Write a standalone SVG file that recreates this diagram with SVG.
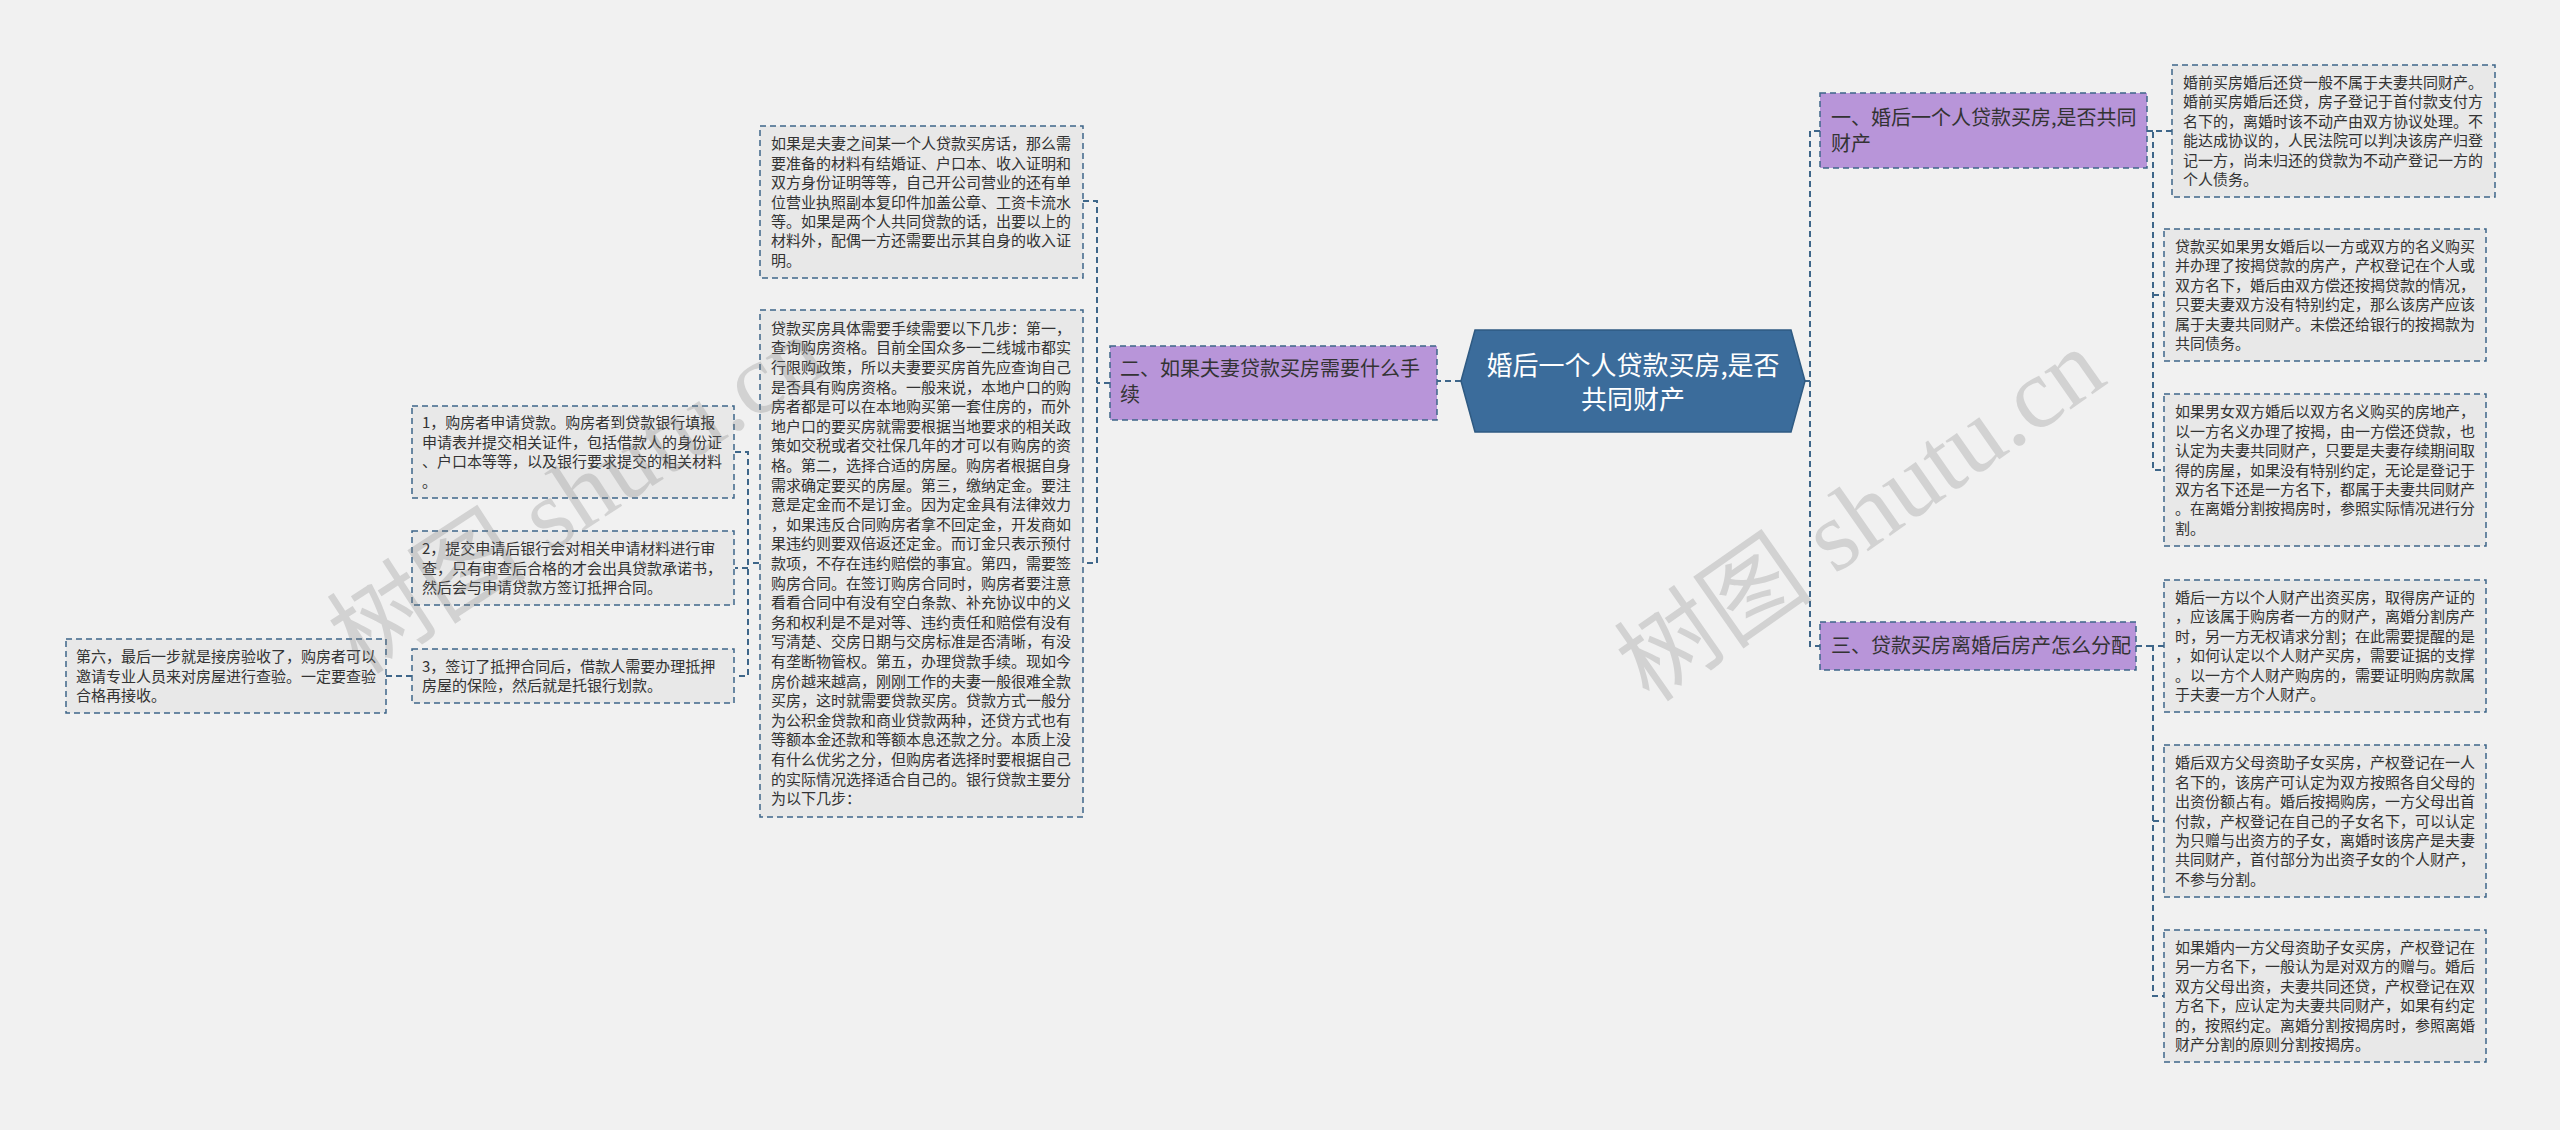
<svg xmlns="http://www.w3.org/2000/svg" width="2560" height="1130" viewBox="0 0 2560 1130">
<style>
.bg{fill:#f1f1f1}
.box{fill:#e8e8e8;stroke:#3e6689;stroke-width:1.5;stroke-dasharray:6 4}
.pbox{fill:#b895d9;stroke:#3e6689;stroke-width:1.5;stroke-dasharray:6 4}
.t{font-family:"Noto Sans CJK SC","Noto Sans",sans-serif;font-size:15px;fill:#333}
.pt{font-family:"Noto Sans CJK SC","Noto Sans",sans-serif;font-size:20px;fill:#333}
.ct{font-family:"Noto Sans CJK SC","Noto Sans",sans-serif;font-size:26px;fill:#fff}
.conn{fill:none;stroke:#3e6689;stroke-width:2;stroke-dasharray:6 4}
.wm{font-family:"Liberation Serif","Noto Sans CJK SC",serif;font-size:100px;fill:#777;opacity:0.25}
</style>
<rect class="bg" x="0" y="0" width="2560" height="1130"/>
<g id="connectors">
<path class="conn" d="M1461 381 H1437"/>
<path class="conn" d="M1110 383 H1097 M1083 201 H1097 V563 H1083"/>
<path class="conn" d="M759 563 H748 M735 452 H748 V676 H735 M748 568 H735"/>
<path class="conn" d="M412 676 H386"/>
<path class="conn" d="M1805 381 H1810 M1820 131 H1810 V646 H1820"/>
<path class="conn" d="M2147 131 H2153 M2172 131 H2153 V470 H2164 M2153 295 H2164"/>
<path class="conn" d="M2136 646 H2153 M2164 646 H2153 V996 H2164 M2153 821 H2164"/>
</g>
<g id="center">
<polygon points="1461,381 1475,330 1791,330 1805,381 1791,432 1475,432" fill="#3b6c9b" stroke="#2f5a82" stroke-width="1.5"/>
<text class="ct" text-anchor="middle"><tspan x="1633" y="375">婚后一个人贷款买房,是否</tspan><tspan x="1633" y="409">共同财产</tspan></text>
</g>
<g id="branch1">
<rect class="pbox" x="1820" y="93" width="327" height="75"/>
<text class="pt"><tspan x="1831" y="125">一、婚后一个人贷款买房,是否共同</tspan><tspan x="1831" y="151">财产</tspan></text>
</g>
<g id="branch2">
<rect class="pbox" x="1110" y="346" width="327" height="74"/>
<text class="pt"><tspan x="1120" y="376">二、如果夫妻贷款买房需要什么手</tspan><tspan x="1120" y="402">续</tspan></text>
</g>
<g id="branch3">
<rect class="pbox" x="1820" y="622" width="316" height="48"/>
<text class="pt"><tspan x="1831" y="653">三、贷款买房离婚后房产怎么分配</tspan></text>
</g>
<g id="t1">
<rect class="box" x="2172" y="65" width="323" height="132"/>
<text class="t"><tspan x="2183" y="88">婚前买房婚后还贷一般不属于夫妻共同财产。</tspan><tspan x="2183" y="107.4">婚前买房婚后还贷，房子登记于首付款支付方</tspan><tspan x="2183" y="126.8">名下的，离婚时该不动产由双方协议处理。不</tspan><tspan x="2183" y="146.2">能达成协议的，人民法院可以判决该房产归登</tspan><tspan x="2183" y="165.6">记一方，尚未归还的贷款为不动产登记一方的</tspan><tspan x="2183" y="185">个人债务。</tspan></text>
</g>
<g id="t2">
<rect class="box" x="2164" y="229" width="322" height="132"/>
<text class="t"><tspan x="2175" y="252">贷款买如果男女婚后以一方或双方的名义购买</tspan><tspan x="2175" y="271.4">并办理了按揭贷款的房产，产权登记在个人或</tspan><tspan x="2175" y="290.8">双方名下，婚后由双方偿还按揭贷款的情况，</tspan><tspan x="2175" y="310.2">只要夫妻双方没有特别约定，那么该房产应该</tspan><tspan x="2175" y="329.6">属于夫妻共同财产。未偿还给银行的按揭款为</tspan><tspan x="2175" y="349">共同债务。</tspan></text>
</g>
<g id="t3">
<rect class="box" x="2164" y="394" width="322" height="152"/>
<text class="t"><tspan x="2175" y="417.3">如果男女双方婚后以双方名义购买的房地产，</tspan><tspan x="2175" y="436.7">以一方名义办理了按揭，由一方偿还贷款，也</tspan><tspan x="2175" y="456.1">认定为夫妻共同财产，只要是夫妻存续期间取</tspan><tspan x="2175" y="475.5">得的房屋，如果没有特别约定，无论是登记于</tspan><tspan x="2175" y="494.9">双方名下还是一方名下，都属于夫妻共同财产</tspan><tspan x="2175" y="514.3">。在离婚分割按揭房时，参照实际情况进行分</tspan><tspan x="2175" y="533.7">割。</tspan></text>
</g>
<g id="t4">
<rect class="box" x="2164" y="580" width="322" height="132"/>
<text class="t"><tspan x="2175" y="603">婚后一方以个人财产出资买房，取得房产证的</tspan><tspan x="2175" y="622.4">，应该属于购房者一方的财产，离婚分割房产</tspan><tspan x="2175" y="641.8">时，另一方无权请求分割；在此需要提醒的是</tspan><tspan x="2175" y="661.2">，如何认定以个人财产买房，需要证据的支撑</tspan><tspan x="2175" y="680.6">。以一方个人财产购房的，需要证明购房款属</tspan><tspan x="2175" y="700">于夫妻一方个人财产。</tspan></text>
</g>
<g id="t5">
<rect class="box" x="2164" y="745" width="322" height="152"/>
<text class="t"><tspan x="2175" y="768.3">婚后双方父母资助子女买房，产权登记在一人</tspan><tspan x="2175" y="787.7">名下的，该房产可认定为双方按照各自父母的</tspan><tspan x="2175" y="807.1">出资份额占有。婚后按揭购房，一方父母出首</tspan><tspan x="2175" y="826.5">付款，产权登记在自己的子女名下，可以认定</tspan><tspan x="2175" y="845.9">为只赠与出资方的子女，离婚时该房产是夫妻</tspan><tspan x="2175" y="865.3">共同财产，首付部分为出资子女的个人财产，</tspan><tspan x="2175" y="884.7">不参与分割。</tspan></text>
</g>
<g id="t6">
<rect class="box" x="2164" y="930" width="322" height="132"/>
<text class="t"><tspan x="2175" y="953">如果婚内一方父母资助子女买房，产权登记在</tspan><tspan x="2175" y="972.4">另一方名下，一般认为是对双方的赠与。婚后</tspan><tspan x="2175" y="991.8">双方父母出资，夫妻共同还贷，产权登记在双</tspan><tspan x="2175" y="1011.2">方名下，应认定为夫妻共同财产，如果有约定</tspan><tspan x="2175" y="1030.6">的，按照约定。离婚分割按揭房时，参照离婚</tspan><tspan x="2175" y="1050">财产分割的原则分割按揭房。</tspan></text>
</g>
<g id="l1">
<rect class="box" x="760" y="126" width="323" height="152"/>
<text class="t"><tspan x="771" y="149.3">如果是夫妻之间某一个人贷款买房话，那么需</tspan><tspan x="771" y="168.7">要准备的材料有结婚证、户口本、收入证明和</tspan><tspan x="771" y="188.1">双方身份证明等等，自己开公司营业的还有单</tspan><tspan x="771" y="207.5">位营业执照副本复印件加盖公章、工资卡流水</tspan><tspan x="771" y="226.9">等。如果是两个人共同贷款的话，出要以上的</tspan><tspan x="771" y="246.3">材料外，配偶一方还需要出示其自身的收入证</tspan><tspan x="771" y="265.7">明。</tspan></text>
</g>
<g id="l2">
<rect class="box" x="760" y="310" width="323" height="507"/>
<text class="t"><tspan x="771" y="333.8">贷款买房具体需要手续需要以下几步：第一，</tspan><tspan x="771" y="353.4">查询购房资格。目前全国众多一二线城市都实</tspan><tspan x="771" y="373">行限购政策，所以夫妻要买房首先应查询自己</tspan><tspan x="771" y="392.6">是否具有购房资格。一般来说，本地户口的购</tspan><tspan x="771" y="412.2">房者都是可以在本地购买第一套住房的，而外</tspan><tspan x="771" y="431.8">地户口的要买房就需要根据当地要求的相关政</tspan><tspan x="771" y="451.4">策如交税或者交社保几年的才可以有购房的资</tspan><tspan x="771" y="471">格。第二，选择合适的房屋。购房者根据自身</tspan><tspan x="771" y="490.6">需求确定要买的房屋。第三，缴纳定金。要注</tspan><tspan x="771" y="510.2">意是定金而不是订金。因为定金具有法律效力</tspan><tspan x="771" y="529.8">，如果违反合同购房者拿不回定金，开发商如</tspan><tspan x="771" y="549.4">果违约则要双倍返还定金。而订金只表示预付</tspan><tspan x="771" y="569">款项，不存在违约赔偿的事宜。第四，需要签</tspan><tspan x="771" y="588.6">购房合同。在签订购房合同时，购房者要注意</tspan><tspan x="771" y="608.2">看看合同中有没有空白条款、补充协议中的义</tspan><tspan x="771" y="627.8">务和权利是不是对等、违约责任和赔偿有没有</tspan><tspan x="771" y="647.4">写清楚、交房日期与交房标准是否清晰，有没</tspan><tspan x="771" y="667">有垄断物管权。第五，办理贷款手续。现如今</tspan><tspan x="771" y="686.6">房价越来越高，刚刚工作的夫妻一般很难全款</tspan><tspan x="771" y="706.2">买房，这时就需要贷款买房。贷款方式一般分</tspan><tspan x="771" y="725.8">为公积金贷款和商业贷款两种，还贷方式也有</tspan><tspan x="771" y="745.4">等额本金还款和等额本息还款之分。本质上没</tspan><tspan x="771" y="765">有什么优劣之分，但购房者选择时要根据自己</tspan><tspan x="771" y="784.6">的实际情况选择适合自己的。银行贷款主要分</tspan><tspan x="771" y="804.2">为以下几步：</tspan></text>
</g>
<g id="i1">
<rect class="box" x="412" y="406" width="322" height="92"/>
<text class="t"><tspan x="422" y="428.4">1，购房者申请贷款。购房者到贷款银行填报</tspan><tspan x="422" y="447.8">申请表并提交相关证件，包括借款人的身份证</tspan><tspan x="422" y="467.2">、户口本等等，以及银行要求提交的相关材料</tspan><tspan x="422" y="486.6">。</tspan></text>
</g>
<g id="i2">
<rect class="box" x="412" y="531" width="322" height="74"/>
<text class="t"><tspan x="422" y="554.1">2，提交申请后银行会对相关申请材料进行审</tspan><tspan x="422" y="573.5">查，只有审查后合格的才会出具贷款承诺书，</tspan><tspan x="422" y="592.9">然后会与申请贷款方签订抵押合同。</tspan></text>
</g>
<g id="i3">
<rect class="box" x="412" y="649" width="322" height="54"/>
<text class="t"><tspan x="422" y="671.8">3，签订了抵押合同后，借款人需要办理抵押</tspan><tspan x="422" y="691.2">房屋的保险，然后就是托银行划款。</tspan></text>
</g>
<g id="f6">
<rect class="box" x="66" y="639" width="320" height="74"/>
<text class="t"><tspan x="76" y="662.1">第六，最后一步就是接房验收了，购房者可以</tspan><tspan x="76" y="681.5">邀请专业人员来对房屋进行查验。一定要查验</tspan><tspan x="76" y="700.9">合格再接收。</tspan></text>
</g>
<g id="watermark">
<text class="wm" transform="translate(360 676) rotate(-33)">树图 shutu.cn</text>
<text class="wm" transform="translate(1650 704) rotate(-35)">树图 shutu.cn</text>
</g>
</svg>
